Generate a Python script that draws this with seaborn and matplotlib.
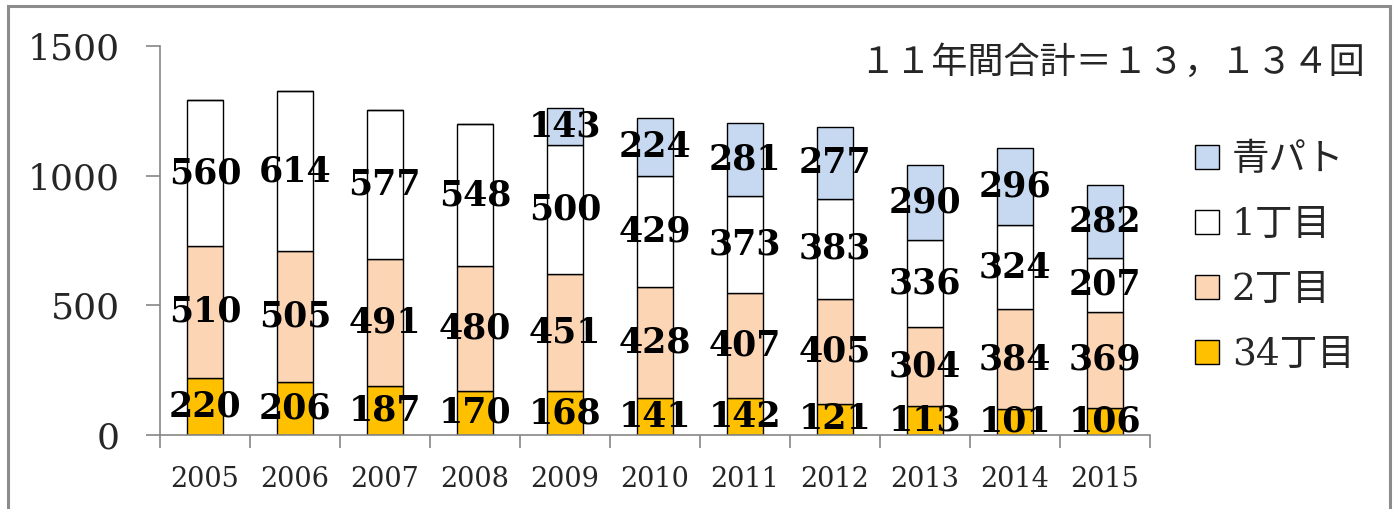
import numpy as np
import pandas as pd
import seaborn as sns
import matplotlib.pyplot as plt
from matplotlib.patches import Rectangle, Patch
from matplotlib.ticker import FixedLocator

years = ['2005', '2006', '2007', '2008', '2009', '2010', '2011', '2012', '2013', '2014', '2015']
chome34 = [220, 206, 187, 170, 168, 141, 142, 121, 113, 101, 106]
chome2 = [510, 505, 491, 480, 451, 428, 407, 405, 304, 384, 369]
chome1 = [560, 614, 577, 548, 500, 429, 373, 383, 336, 324, 207]
aopato = [0, 0, 0, 0, 143, 224, 281, 277, 290, 296, 282]

series_names = ['34丁目', '2丁目', '1丁目', '青パト']
series_values = [chome34, chome2, chome1, aopato]
series_colors = ['#FFC000', '#FCD5B5', '#FFFFFF', '#C6D9F1']
total_text = '１１年間合計＝１３，１３４回'

sns.set_style('white')
fonts = ['DejaVu Serif', 'Noto Sans CJK JP', 'DejaVu Sans']
plt.rcParams['font.family'] = fonts

fig = plt.figure(figsize=(13.97, 5.09), dpi=100)
ax = fig.add_axes([0.1145, 0.1454, 0.7085, 0.7642])

bottom = np.zeros(len(years))
for name, vals, col in zip(series_names, series_values, series_colors):
    df = pd.DataFrame({'year': years, 'value': vals})
    n_before = len(ax.patches)
    sns.barplot(data=df, x='year', y='value', color=col, bottom=bottom,
                width=0.4, edgecolor='black', linewidth=1.0, saturation=1,
                ax=ax)
    for b in ax.patches[n_before:]:
        b.set_facecolor(col)
    labels = [str(v) if v > 0 else '' for v in vals]
    ax.bar_label(ax.containers[-1], labels=labels, label_type='center',
                 fontsize=25, fontweight='bold', color='black')
    bottom = bottom + np.array(vals)

ax.set_ylim(0, 1500)
ax.set_xlim(-0.5, len(years) - 0.5)
ax.set_yticks([0, 500, 1000, 1500])
ax.set_xlabel('')
ax.set_ylabel('')

for s in ['top', 'right']:
    ax.spines[s].set_visible(False)
for s in ['left', 'bottom']:
    ax.spines[s].set_color('#868686')
    ax.spines[s].set_linewidth(1.2)

ax.tick_params(axis='y', direction='out', length=10, width=1.2, color='#868686',
               labelsize=26, pad=19, left=True)
ax.tick_params(axis='x', which='major', length=0, labelsize=19.5, pad=22)
ax.xaxis.set_minor_locator(FixedLocator(np.arange(-0.5, len(years), 1.0)))
ax.tick_params(axis='x', which='minor', direction='out', length=9, width=1.2,
               color='#868686', bottom=True)

handles = [Patch(facecolor=c, edgecolor='black', linewidth=1.0, label=n)
           for n, c in zip(series_names, series_colors)][::-1]
fig.legend(handles=handles, loc='upper left', bbox_to_anchor=(0.845, 0.75),
           frameon=False, fontsize=27, handlelength=0.62, handleheight=0.62,
           handletextpad=0.35, labelspacing=0.77, borderaxespad=0)

fig.text(0.977, 0.878, total_text, ha='right', va='center', fontsize=26)

fig.patches.append(Rectangle((8 / 1397, -0.1), (1390 - 8) / 1397, 1.088,
                             transform=fig.transFigure, fill=False,
                             edgecolor='#8c8c8c', linewidth=2.2, zorder=10))

fig.savefig('out.png', dpi=100)
